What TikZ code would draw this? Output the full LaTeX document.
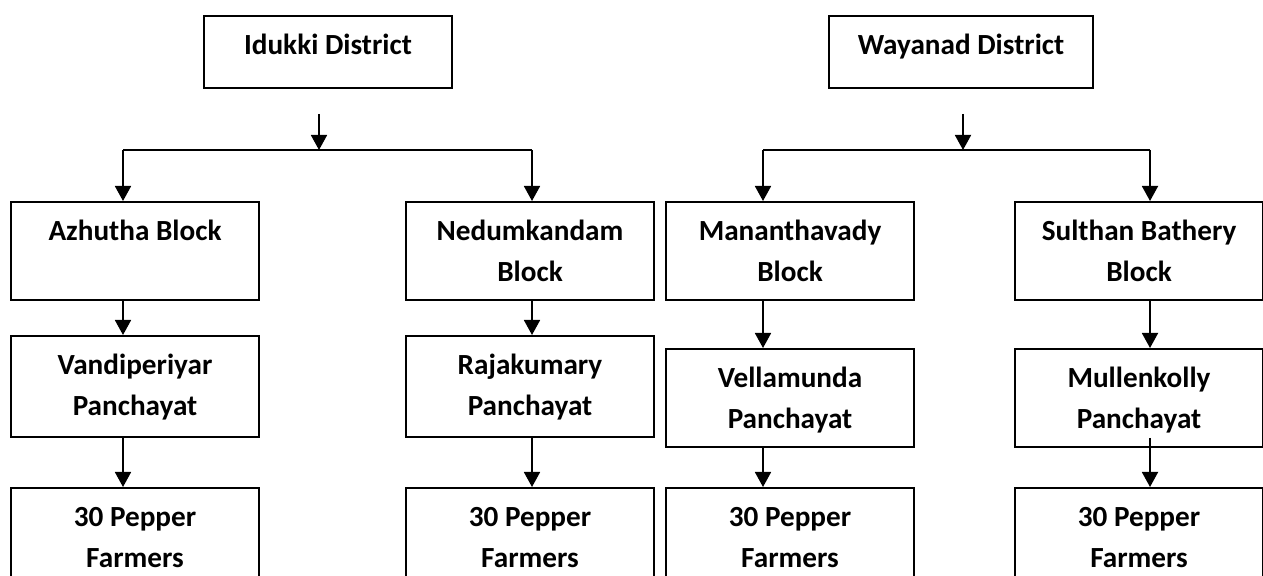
\documentclass[tikz,border=0pt]{standalone}
\usepackage{fontspec}
\setmainfont{Carlito}
\usetikzlibrary{arrows.meta}

\newcommand{\boxtext}[3][124pt]{\parbox[c][#2][t]{#1}{\centering\rule{0pt}{19.5pt}#3}}

\begin{document}
\begin{tikzpicture}[
    x=0.5pt, y=-0.5pt,
    box/.style={draw, line width=1pt, inner sep=0pt, anchor=north west,
                font=\bfseries\fontsize{14.6}{20.25}\selectfont},
    link/.style={line width=0.9pt},
    arr/.style={link, -{Triangle[length=7.5pt,width=8pt]}}
  ]
    \useasboundingbox (0,0) rectangle (1263,576);
    % Districts
    \node[box] (idk) at (203,15) {\boxtext{36pt}{Idukki District}};
    \node[box] (way) at (828,15) {\boxtext[132pt]{36pt}{Wayanad District\hspace{6pt}}};
    % Blocks
    \node[box] (azh) at (10,201) {\boxtext{49pt}{Azhutha Block}};
    \node[box] (ned) at (405,201) {\boxtext{49pt}{Nedumkandam\\Block}};
    \node[box] (man) at (665,201) {\boxtext{49pt}{Mananthavady\\Block}};
    \node[box] (sul) at (1014,201) {\boxtext{49pt}{Sulthan Bathery\\Block}};
    % Panchayats
    \node[box] (van) at (10,335) {\boxtext{50.5pt}{Vandiperiyar\\Panchayat}};
    \node[box] (raj) at (405,335) {\boxtext{50.5pt}{Rajakumary\\Panchayat}};
    \node[box] (vel) at (665,348) {\boxtext{49pt}{Vellamunda\\Panchayat}};
    \node[box] (mul) at (1014,348) {\boxtext{49pt}{Mullenkolly\\Panchayat}};
    % Farmers
    \node[box] (fa1) at (10,487) {\boxtext{50pt}{30 Pepper\\Farmers}};
    \node[box] (fa2) at (405,487) {\boxtext{50pt}{30 Pepper\\Farmers}};
    \node[box] (fa3) at (665,487) {\boxtext{50pt}{30 Pepper\\Farmers}};
    \node[box] (fa4) at (1014,487) {\boxtext{50pt}{30 Pepper\\Farmers}};
    % Split points
    \coordinate (idk-a) at (319,114);
    \coordinate (idk-b) at (319,150);
    \coordinate (idk-l) at (123,150);
    \coordinate (idk-r) at (532,150);
    \coordinate (way-a) at (963,114);
    \coordinate (way-b) at (963,150);
    \coordinate (way-l) at (763,150);
    \coordinate (way-r) at (1150,150);
    % Idukki arrows
    \draw[arr] (idk-a) -- (idk-b);
    \draw[link] (idk-l) -- (idk-r);
    \draw[arr] (idk-l) -- (azh.north -| idk-l);
    \draw[arr] (idk-r) -- (ned.north -| idk-r);
    \draw[arr] (azh.south -| idk-l) -- (van.north -| idk-l);
    \draw[arr] (van.south -| idk-l) -- (fa1.north -| idk-l);
    \draw[arr] (ned.south -| idk-r) -- (raj.north -| idk-r);
    \draw[arr] (raj.south -| idk-r) -- (fa2.north -| idk-r);
    % Wayanad arrows
    \draw[arr] (way-a) -- (way-b);
    \draw[link] (way-l) -- (way-r);
    \draw[arr] (way-l) -- (man.north -| way-l);
    \draw[arr] (way-r) -- (sul.north -| way-r);
    \draw[arr] (man.south -| way-l) -- (vel.north -| way-l);
    \draw[arr] (vel.south -| way-l) -- (fa3.north -| way-l);
    \draw[arr] (sul.south -| way-r) -- (mul.north -| way-r);
    \draw[arr] ([yshift=5pt]mul.south -| way-r) -- (fa4.north -| way-r);
  \end{tikzpicture}
\end{document}
